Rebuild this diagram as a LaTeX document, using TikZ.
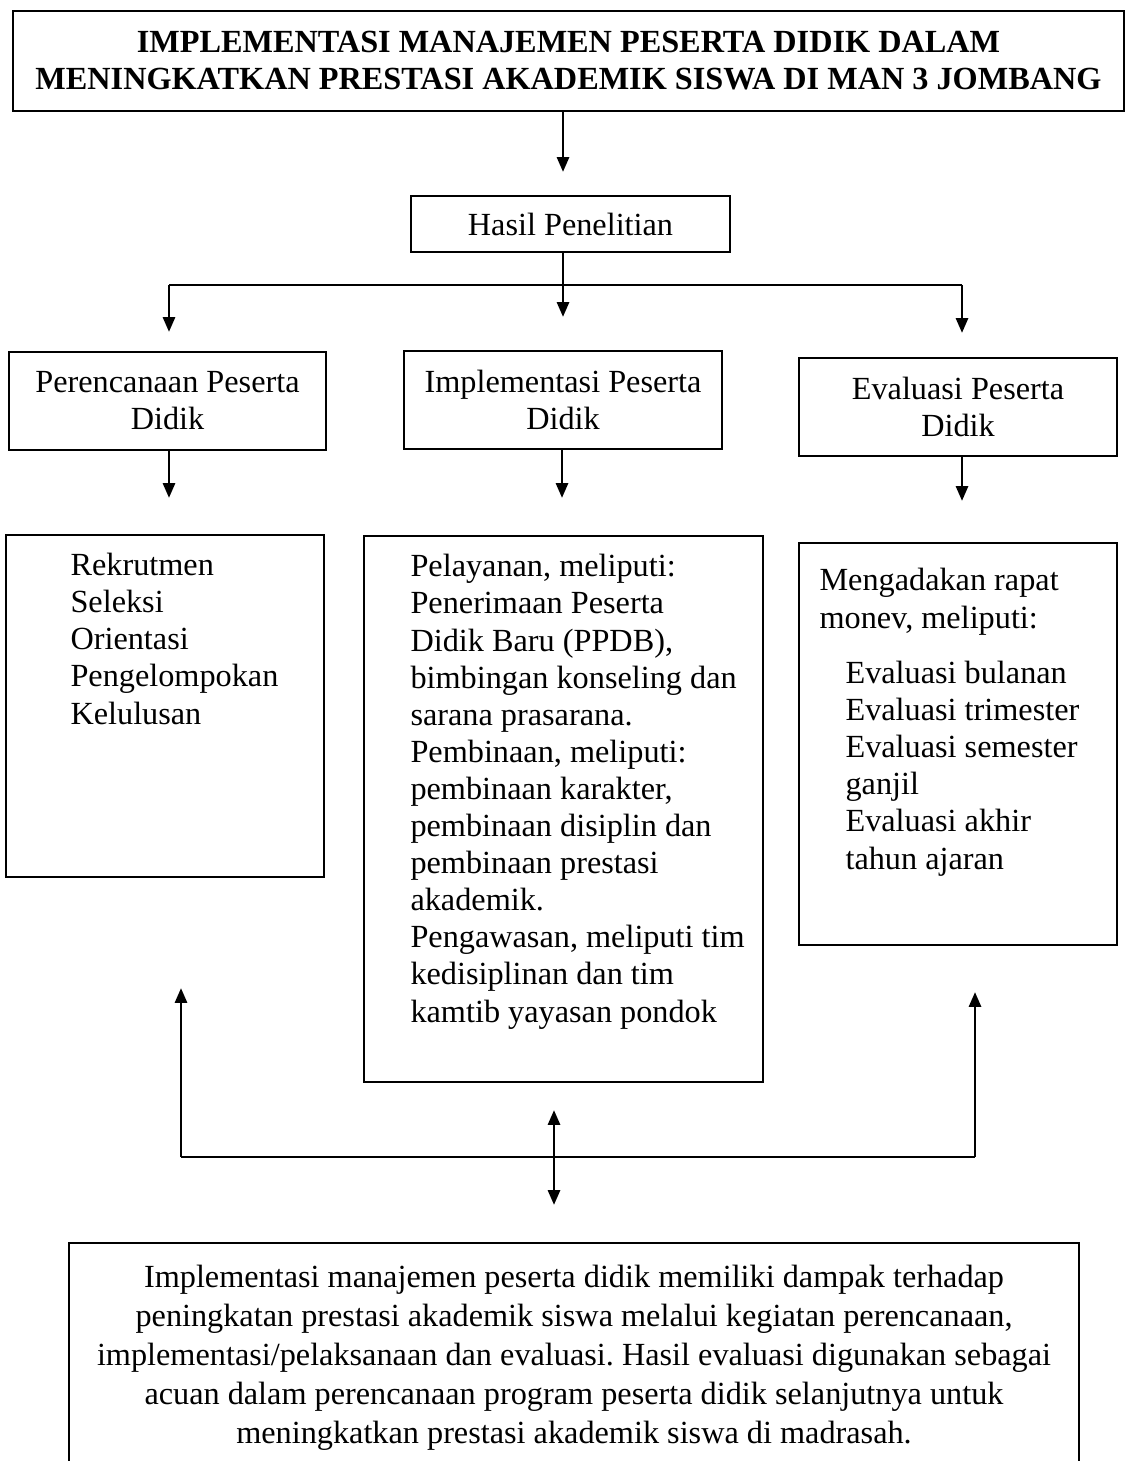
\documentclass[tikz,border=0pt]{standalone}
\usepackage{fontspec}
\setmainfont{Liberation Serif}
\usetikzlibrary{arrows.meta, fit}
\frenchspacing

\begin{document}
\begin{tikzpicture}[>={Triangle[length=5.5pt,width=4.4pt]}, x=0.372pt, y=-0.372pt,
  every node/.style={font=\fontsize{12}{13.8}\selectfont},
  box/.style={draw, line width=0.8pt, inner sep=0pt, align=center},
  listtxt/.style={anchor=base west, align=left, inner sep=0pt},
  conn/.style={line width=1.1pt}]
  \useasboundingbox (0,0) rectangle (1128,1461);
  % Title
  \node[box, minimum width=413.3pt, minimum height=37.2pt, font=\fontsize{12}{13.8}\selectfont\bfseries] (title) at (568.5,61)
    {IMPLEMENTASI MANAJEMEN PESERTA DIDIK DALAM\\MENINGKATKAN PRESTASI AKADEMIK SISWA DI MAN 3 JOMBANG};
  \node[box, minimum width=118.7pt, minimum height=20.8pt] (hasil) at (570.5,224) {Hasil Penelitian};
  \coordinate (a0) at (563,172);
  \draw[conn,->] (title.south -| a0) -- (a0);
  % Branches
  \coordinate (bl) at (169,285); \coordinate (br) at (962,285);
  \coordinate (a1) at (169,332); \coordinate (a2) at (563,317); \coordinate (a3) at (962,333);
  \draw[conn,->] (hasil.south -| a2) -- (a2);
  \draw[conn] (bl) -- (br);
  \draw[conn,->] (bl) -- (a1);
  \draw[conn,->] (br) -- (a3);
  % Stages
  \node[box, minimum width=117.9pt, minimum height=36.5pt] (plan) at (167.5,401) {Perencanaan Peserta\\Didik};
  \node[box, minimum width=118.3pt, minimum height=36.5pt] (impl) at (563,400) {Implementasi Peserta\\Didik};
  \node[box, minimum width=118.3pt, minimum height=36.5pt] (eval) at (958,407) {Evaluasi Peserta\\Didik};
  \coordinate (c1) at (169,498); \coordinate (c2) at (562,498); \coordinate (c3) at (962,501);
  \draw[conn,->] (plan.south -| c1) -- (c1);
  \draw[conn,->] (impl.south -| c2) -- (c2);
  \draw[conn,->] (eval.south -| c3) -- (c3);
  % Details
  \node[box, fit={(6,535) (324,877)}] (planlist) {};
  \node[listtxt] (plantxt) at (70,724)
    {Rekrutmen\\Seleksi\\Orientasi\\Pengelompokan\\Kelulusan};
  \node[box, fit={(364,536) (763,1082)}] (impllist) {};
  \node[listtxt] (impltxt) at (410,1022)
    {Pelayanan, meliputi:\\Penerimaan Peserta\\Didik Baru (PPDB),\\bimbingan konseling dan\\sarana prasarana.\\
     Pembinaan, meliputi:\\pembinaan karakter,\\pembinaan disiplin dan\\pembinaan prestasi\\akademik.\\
     Pengawasan, meliputi tim\\kedisiplinan dan tim\\kamtib yayasan pondok};
  \node[box, fit={(799,543) (1117,945)}] (evallist) {};
  \node[listtxt] (evalhead) at (819,628) {Mengadakan rapat\\monev, meliputi:};
  \node[listtxt] (evaltxt) at (845,869)
    {Evaluasi bulanan\\Evaluasi trimester\\Evaluasi semester\\ganjil\\Evaluasi akhir\\tahun ajaran};
  % Feedback
  \coordinate (f1) at (181,988); \coordinate (f2) at (975,992);
  \coordinate (fl) at (181,1157); \coordinate (fr) at (975,1157);
  \draw[conn,->] (fl) -- (f1);
  \draw[conn,->] (fr) -- (f2);
  \draw[conn] (fl) -- (fr);
  \coordinate (d1) at (554,1110); \coordinate (d2) at (554,1205);
  \draw[conn,<->] (d1) -- (d2);
  % Conclusion
  \node[box, fit={(69,1243) (1079,1520)}] (concl) {};
  \node[anchor=base, align=center, font=\fontsize{12}{14.5}\selectfont] (concltxt) at (574,1443)
    {Implementasi manajemen peserta didik memiliki dampak terhadap\\
     peningkatan prestasi akademik siswa melalui kegiatan perencanaan,\\
     implementasi/pelaksanaan dan evaluasi. Hasil evaluasi digunakan sebagai\\
     acuan dalam perencanaan program peserta didik selanjutnya untuk\\
     meningkatkan prestasi akademik siswa di madrasah.};
\end{tikzpicture}
\end{document}
